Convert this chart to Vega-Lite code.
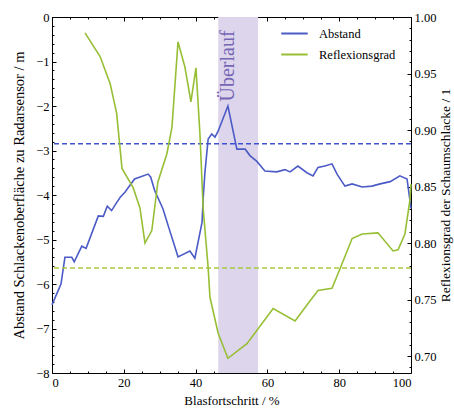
{
  "$schema": "https://vega.github.io/schema/vega-lite/v6.json",
  "width": 359,
  "height": 356,
  "autosize": {"type": "none"},
  "padding": {"left": 52, "top": 17, "right": 43, "bottom": 37},
  "background": "white",
  "config": {
    "view": {"stroke": null},
    "font": "Liberation Serif",
    "axis": {
      "grid": false,
      "labelFont": "Liberation Serif",
      "labelFontSize": 12.5,
      "labelColor": "black",
      "titleFont": "Liberation Serif",
      "titleFontSize": 13,
      "titleFontWeight": "normal",
      "titleColor": "black",
      "tickColor": "black",
      "domainColor": "black",
      "domainWidth": 1,
      "tickWidth": 1
    },
    "legend": {"labelFont": "Liberation Serif"}
  },
  "datasets": {
    "abstand": [
      {"p": 0, "v": -6.47, "s": "Abstand"},
      {"p": 2.5, "v": -6.0, "s": "Abstand"},
      {"p": 3.6, "v": -5.4, "s": "Abstand"},
      {"p": 5.5, "v": -5.4, "s": "Abstand"},
      {"p": 6.2, "v": -5.5, "s": "Abstand"},
      {"p": 8.3, "v": -5.15, "s": "Abstand"},
      {"p": 9.5, "v": -5.2, "s": "Abstand"},
      {"p": 12.9, "v": -4.47, "s": "Abstand"},
      {"p": 14.3, "v": -4.48, "s": "Abstand"},
      {"p": 15.4, "v": -4.25, "s": "Abstand"},
      {"p": 16.6, "v": -4.35, "s": "Abstand"},
      {"p": 18.0, "v": -4.17, "s": "Abstand"},
      {"p": 19.0, "v": -4.05, "s": "Abstand"},
      {"p": 20.3, "v": -3.94, "s": "Abstand"},
      {"p": 23.0, "v": -3.64, "s": "Abstand"},
      {"p": 26.8, "v": -3.53, "s": "Abstand"},
      {"p": 27.5, "v": -3.6, "s": "Abstand"},
      {"p": 28.6, "v": -3.9, "s": "Abstand"},
      {"p": 30.9, "v": -4.31, "s": "Abstand"},
      {"p": 32.6, "v": -4.75, "s": "Abstand"},
      {"p": 35.1, "v": -5.39, "s": "Abstand"},
      {"p": 38.4, "v": -5.26, "s": "Abstand"},
      {"p": 39.8, "v": -5.42, "s": "Abstand"},
      {"p": 41.8, "v": -4.61, "s": "Abstand"},
      {"p": 42.1, "v": -4.09, "s": "Abstand"},
      {"p": 42.6, "v": -3.49, "s": "Abstand"},
      {"p": 43.5, "v": -2.74, "s": "Abstand"},
      {"p": 44.5, "v": -2.63, "s": "Abstand"},
      {"p": 45.4, "v": -2.7, "s": "Abstand"},
      {"p": 46.3, "v": -2.56, "s": "Abstand"},
      {"p": 49.0, "v": -2.0, "s": "Abstand"},
      {"p": 51.5, "v": -2.97, "s": "Abstand"},
      {"p": 53.8, "v": -2.97, "s": "Abstand"},
      {"p": 55.2, "v": -3.12, "s": "Abstand"},
      {"p": 57.0, "v": -3.24, "s": "Abstand"},
      {"p": 59.3, "v": -3.46, "s": "Abstand"},
      {"p": 62.6, "v": -3.48, "s": "Abstand"},
      {"p": 64.9, "v": -3.43, "s": "Abstand"},
      {"p": 66.3, "v": -3.48, "s": "Abstand"},
      {"p": 68.5, "v": -3.35, "s": "Abstand"},
      {"p": 71.0, "v": -3.5, "s": "Abstand"},
      {"p": 72.7, "v": -3.57, "s": "Abstand"},
      {"p": 74.1, "v": -3.38, "s": "Abstand"},
      {"p": 76.0, "v": -3.35, "s": "Abstand"},
      {"p": 78.0, "v": -3.3, "s": "Abstand"},
      {"p": 79.4, "v": -3.53, "s": "Abstand"},
      {"p": 81.6, "v": -3.8, "s": "Abstand"},
      {"p": 83.6, "v": -3.75, "s": "Abstand"},
      {"p": 86.4, "v": -3.82, "s": "Abstand"},
      {"p": 89.1, "v": -3.8, "s": "Abstand"},
      {"p": 91.4, "v": -3.75, "s": "Abstand"},
      {"p": 94.2, "v": -3.7, "s": "Abstand"},
      {"p": 96.9, "v": -3.57, "s": "Abstand"},
      {"p": 98.9, "v": -3.64, "s": "Abstand"},
      {"p": 100, "v": -4.3, "s": "Abstand"}
    ],
    "reflex": [
      {"p": 9.2, "r": 0.986, "s": "Reflexionsgrad"},
      {"p": 13.4, "r": 0.965, "s": "Reflexionsgrad"},
      {"p": 16.2, "r": 0.941, "s": "Reflexionsgrad"},
      {"p": 18.0, "r": 0.915, "s": "Reflexionsgrad"},
      {"p": 19.5, "r": 0.866, "s": "Reflexionsgrad"},
      {"p": 22.6, "r": 0.849, "s": "Reflexionsgrad"},
      {"p": 24.5, "r": 0.831, "s": "Reflexionsgrad"},
      {"p": 25.9, "r": 0.8, "s": "Reflexionsgrad"},
      {"p": 27.8, "r": 0.811, "s": "Reflexionsgrad"},
      {"p": 29.5, "r": 0.854, "s": "Reflexionsgrad"},
      {"p": 32.0, "r": 0.879, "s": "Reflexionsgrad"},
      {"p": 33.4, "r": 0.902, "s": "Reflexionsgrad"},
      {"p": 35.1, "r": 0.978, "s": "Reflexionsgrad"},
      {"p": 37.0, "r": 0.956, "s": "Reflexionsgrad"},
      {"p": 38.7, "r": 0.925, "s": "Reflexionsgrad"},
      {"p": 40.1, "r": 0.955, "s": "Reflexionsgrad"},
      {"p": 41.2, "r": 0.897, "s": "Reflexionsgrad"},
      {"p": 42.1, "r": 0.831, "s": "Reflexionsgrad"},
      {"p": 43.5, "r": 0.778, "s": "Reflexionsgrad"},
      {"p": 44.0, "r": 0.752, "s": "Reflexionsgrad"},
      {"p": 46.3, "r": 0.72, "s": "Reflexionsgrad"},
      {"p": 49.0, "r": 0.698, "s": "Reflexionsgrad"},
      {"p": 54.3, "r": 0.711, "s": "Reflexionsgrad"},
      {"p": 61.6, "r": 0.742, "s": "Reflexionsgrad"},
      {"p": 67.7, "r": 0.731, "s": "Reflexionsgrad"},
      {"p": 71.9, "r": 0.749, "s": "Reflexionsgrad"},
      {"p": 74.1, "r": 0.758, "s": "Reflexionsgrad"},
      {"p": 78.0, "r": 0.76, "s": "Reflexionsgrad"},
      {"p": 80.2, "r": 0.777, "s": "Reflexionsgrad"},
      {"p": 83.6, "r": 0.804, "s": "Reflexionsgrad"},
      {"p": 86.4, "r": 0.808, "s": "Reflexionsgrad"},
      {"p": 90.8, "r": 0.809, "s": "Reflexionsgrad"},
      {"p": 95.0, "r": 0.793, "s": "Reflexionsgrad"},
      {"p": 96.4, "r": 0.794, "s": "Reflexionsgrad"},
      {"p": 98.3, "r": 0.808, "s": "Reflexionsgrad"},
      {"p": 99.7, "r": 0.838, "s": "Reflexionsgrad"},
      {"p": 100, "r": 0.852, "s": "Reflexionsgrad"}
    ]
  },
  "layer": [
    {
      "layer": [
        {
          "data": {"values": [{"p": 46.3, "p2": 57.4}]},
          "mark": {"type": "rect", "color": "#ddd5ec"},
          "encoding": {
            "x": {
              "field": "p", "type": "quantitative",
              "scale": {"domain": [0, 100], "nice": false, "zero": false},
              "axis": {"orient": "bottom", "values": [0, 20, 40, 60, 80, 100], "format": "d", "tickSize": -4, "labelPadding": 7, "titlePadding": 6},
              "title": "Blasfortschritt / %"
            },
            "x2": {"field": "p2"}
          }
        },
        {
          "data": {"values": [{"v": -2.85}]},
          "mark": {"type": "rule", "color": "#3f52cf", "strokeWidth": 1.5, "strokeDash": [5, 3]},
          "encoding": {
            "y": {"field": "v", "type": "quantitative", "title": "Abstand Schlackenoberfläche zu Radarsensor / m"}
          }
        },
        {
          "data": {"name": "abstand"},
          "mark": {"type": "line", "strokeWidth": 1.6},
          "encoding": {
            "x": {"field": "p", "type": "quantitative", "title": "Blasfortschritt / %"},
            "y": {
              "field": "v", "type": "quantitative",
              "scale": {"domain": [-8, 0], "nice": false, "zero": false},
              "axis": {"orient": "left", "values": [-8, -7, -6, -5, -4, -3, -2, -1, 0], "format": "d", "tickSize": -4, "labelPadding": 7, "titlePadding": 9, "titleFontSize": 14.5},
              "title": "Abstand Schlackenoberfläche zu Radarsensor / m"
            },
            "color": {
              "field": "s", "type": "nominal",
              "scale": {"domain": ["Abstand", "Reflexionsgrad"], "range": ["#4b5bc6", "#97bf35"]},
              "legend": {"orient": "none", "legendX": 228, "legendY": 2, "title": null, "symbolType": "stroke", "symbolSize": 700, "symbolStrokeWidth": 2, "labelFontSize": 12.5, "labelColor": "black", "labelOffset": 10, "rowPadding": 0}
            }
          }
        },
        {
          "data": {"values": [{"p": 49, "v": -1.1, "t": "Überlauf"}]},
          "mark": {"type": "text", "angle": 270, "align": "center", "baseline": "middle", "fontSize": 20, "color": "#7565b5", "font": "Liberation Serif"},
          "encoding": {
            "x": {"field": "p", "type": "quantitative", "title": "Blasfortschritt / %"},
            "y": {"field": "v", "type": "quantitative", "title": "Abstand Schlackenoberfläche zu Radarsensor / m"},
            "text": {"field": "t"}
          }
        }
      ]
    },
    {
      "layer": [
        {
          "data": {"values": [{"r": 0.778}]},
          "mark": {"type": "rule", "color": "#a9c93c", "strokeWidth": 1.5, "strokeDash": [5, 3]},
          "encoding": {
            "y": {"field": "r", "type": "quantitative", "title": "Reflexionsgrad der Schaumschlacke / 1"}
          }
        },
        {
          "data": {"name": "reflex"},
          "mark": {"type": "line", "strokeWidth": 1.6},
          "encoding": {
            "x": {
              "field": "p", "type": "quantitative",
              "scale": {"domain": [0, 100], "nice": false, "zero": false},
              "axis": {"orient": "top", "values": [0, 20, 40, 60, 80, 100], "tickSize": -4, "labels": false, "title": null}
            },
            "y": {
              "field": "r", "type": "quantitative",
              "scale": {"domain": [0.685, 1.0], "nice": false, "zero": false},
              "axis": {"orient": "right", "values": [0.7, 0.75, 0.8, 0.85, 0.9, 0.95, 1.0], "format": ".2f", "tickSize": -4, "labelPadding": 7, "titleAngle": 270, "titleBaseline": "top", "titlePadding": 3, "titleFontSize": 13.5},
              "title": "Reflexionsgrad der Schaumschlacke / 1"
            },
            "color": {"field": "s", "type": "nominal"}
          }
        }
      ]
    },
    {
      "data": {"values": [{"p": 0, "v": -8}]},
      "mark": {"type": "point", "opacity": 0},
      "encoding": {
        "x": {
          "field": "p", "type": "quantitative",
          "scale": {"domain": [0, 100], "nice": false, "zero": false},
          "axis": {"orient": "bottom", "values": [5, 10, 15, 25, 30, 35, 45, 50, 55, 65, 70, 75, 85, 90, 95], "tickSize": -2, "labels": false, "domain": false, "title": null}
        },
        "y": {
          "field": "v", "type": "quantitative",
          "scale": {"domain": [-8, 0], "nice": false, "zero": false},
          "axis": {"orient": "left", "values": [-7.8, -7.6, -7.4, -7.2, -6.8, -6.6, -6.4, -6.2, -5.8, -5.6, -5.4, -5.2, -4.8, -4.6, -4.4, -4.2, -3.8, -3.6, -3.4, -3.2, -2.8, -2.6, -2.4, -2.2, -1.8, -1.6, -1.4, -1.2, -0.8, -0.6, -0.4, -0.2], "tickSize": -2, "labels": false, "domain": false, "title": null}
        }
      }
    },
    {
      "data": {"values": [{"p": 0, "r": 0.7}]},
      "mark": {"type": "point", "opacity": 0},
      "encoding": {
        "x": {
          "field": "p", "type": "quantitative",
          "scale": {"domain": [0, 100], "nice": false, "zero": false},
          "axis": {"orient": "top", "values": [5, 10, 15, 25, 30, 35, 45, 50, 55, 65, 70, 75, 85, 90, 95], "tickSize": -2, "labels": false, "domain": false, "title": null}
        },
        "y": {
          "field": "r", "type": "quantitative",
          "scale": {"domain": [0.685, 1.0], "nice": false, "zero": false},
          "axis": {"orient": "right", "values": [0.69, 0.71, 0.72, 0.73, 0.74, 0.76, 0.77, 0.78, 0.79, 0.81, 0.82, 0.83, 0.84, 0.86, 0.87, 0.88, 0.89, 0.91, 0.92, 0.93, 0.94, 0.96, 0.97, 0.98, 0.99], "tickSize": -2, "labels": false, "domain": false, "title": null}
        }
      }
    }
  ],
  "resolve": {"scale": {"y": "independent"}, "axis": {"x": "independent", "y": "independent"}}
}
